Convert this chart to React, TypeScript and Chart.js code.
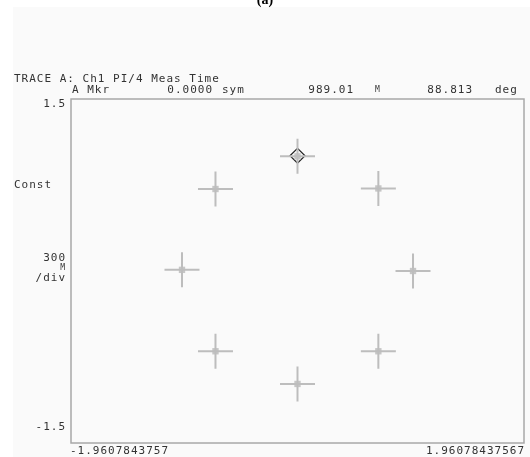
import React, { useEffect, useRef } from "react";
import { Chart, registerables } from "chart.js";

Chart.register(...registerables);

const iValues = [0.0, 0.7, 1.0, 0.7, 0.0, -0.71, -1.0, -0.71];
const qValues = [1.0, 0.72, 0.0, -0.7, -0.985, -0.7, 0.01, 0.715];
const markerI = [0.0];
const markerQ = [1.005];
const xMin = -1.9607843757;
const xMax = 1.96078437567;
const yMin = -1.5;
const yMax = 1.5;
const xTickLabels = ["-1.9607843757", "1.96078437567"];
const yTickLabels = ["1.5", "-1.5"];
const titleText = "TRACE A: Ch1 PI/4 Meas Time";
const markerRow = [
  { text: "A Mkr", x: 72, align: "left" },
  { text: "0.0000", x: 213, align: "right" },
  { text: "sym", x: 222, align: "left" },
  { text: "989.01", x: 354, align: "right" },
  { text: "M", x: 375, align: "left" },
  { text: "88.813", x: 473, align: "right" },
  { text: "deg", x: 495, align: "left" },
];

const MONO = "'DejaVu Sans Mono', 'Liberation Mono', monospace";

const decor = {
  id: "decor",
  beforeDraw(chart: any) {
    const { ctx, chartArea: a } = chart;
    ctx.save();
    ctx.fillStyle = "#ffffff";
    ctx.fillRect(0, 0, chart.width, chart.height);
    ctx.fillStyle = "#fafafa";
    ctx.fillRect(13, 7, chart.width - 13, chart.height - 7);
    ctx.strokeStyle = "#a8a8a8";
    ctx.lineWidth = 1.5;
    ctx.strokeRect(a.left, a.top, a.right - a.left, a.bottom - a.top);
    ctx.restore();
  },
  afterDraw(chart: any) {
    const { ctx, chartArea: a } = chart;
    ctx.save();
    ctx.fillStyle = "#000";
    ctx.font = "bold 14px 'Liberation Serif', serif";
    ctx.textAlign = "center";
    ctx.textBaseline = "alphabetic";
    ctx.fillText("(a)", 265, 4);

    ctx.fillStyle = "#333";
    ctx.font = `11px ${MONO}`;
    try { (ctx as any).letterSpacing = "1px"; } catch (e) {}
    ctx.textBaseline = "middle";
    ctx.textAlign = "left";
    ctx.fillText(titleText, 14, 79);
    markerRow.forEach((m) => {
      ctx.textAlign = m.align;
      if (m.text === "M") {
        ctx.font = `8px ${MONO}`;
        ctx.fillText(m.text, m.x, 90);
        ctx.font = `11px ${MONO}`;
      } else {
        ctx.fillText(m.text, m.x, 90);
      }
    });
    ctx.textAlign = "right";
    ctx.fillText(yTickLabels[0], a.left - 5, a.top + 5);
    ctx.fillText(yTickLabels[1], a.left - 5, a.bottom - 16);
    ctx.textAlign = "left";
    ctx.fillText("Const", 14, 185);
    ctx.textAlign = "right";
    ctx.fillText("300", a.left - 5, 258);
    ctx.font = `8px ${MONO}`;
    ctx.fillText("M", a.left - 5, 268);
    ctx.font = `11px ${MONO}`;
    ctx.fillText("/div", a.left - 5, 278);
    ctx.textAlign = "left";
    ctx.fillText(xTickLabels[0], a.left - 1, a.bottom + 8);
    ctx.textAlign = "right";
    ctx.fillText(xTickLabels[1], a.right + 1, a.bottom + 8);
    ctx.restore();
  },
};

export default function App() {
  const ref = useRef<HTMLCanvasElement | null>(null);
  useEffect(() => {
    const pts = iValues.map((x, i) => ({ x, y: qValues[i] }));
    const mk = markerI.map((x, i) => ({ x, y: markerQ[i] }));
    const chart = new Chart(ref.current as HTMLCanvasElement, {
      type: "scatter",
      data: {
        datasets: [
          {
            data: pts,
            pointStyle: "cross",
            pointRadius: 17.5,
            pointBorderColor: "#bdbdbd",
            pointBorderWidth: 2,
            pointBackgroundColor: "#bdbdbd",
            showLine: false,
          },
          {
            data: pts,
            pointStyle: "rect",
            pointRadius: 4.5,
            pointBorderWidth: 0,
            pointBackgroundColor: "#c6c6c6",
            showLine: false,
          },
          {
            data: mk,
            pointStyle: "rectRot",
            pointRadius: 7.5,
            pointBorderColor: "#222",
            pointBorderWidth: 1.2,
            pointBackgroundColor: "rgba(0,0,0,0)",
            showLine: false,
          },
          {
            data: mk,
            pointStyle: "circle",
            pointRadius: 1,
            pointBorderWidth: 0,
            pointBackgroundColor: "#555",
            showLine: false,
          },
        ],
      },
      options: {
        responsive: false,
        animation: false,
        layout: { autoPadding: false, padding: { left: 71, top: 99, right: 6, bottom: 14 } },
        plugins: { legend: { display: false }, tooltip: { enabled: false } },
        scales: {
          x: { type: "linear", min: xMin, max: xMax, display: false },
          y: { type: "linear", min: yMin, max: yMax, display: false },
        },
      },
      plugins: [decor],
    });
    return () => chart.destroy();
  }, []);
  return (
    <div style={{ position: "fixed", left: 0, top: 0, width: 530, height: 457, background: "#fff" }}>
      <canvas ref={ref} width={530} height={457} style={{ display: "block" }} />
    </div>
  );
}
